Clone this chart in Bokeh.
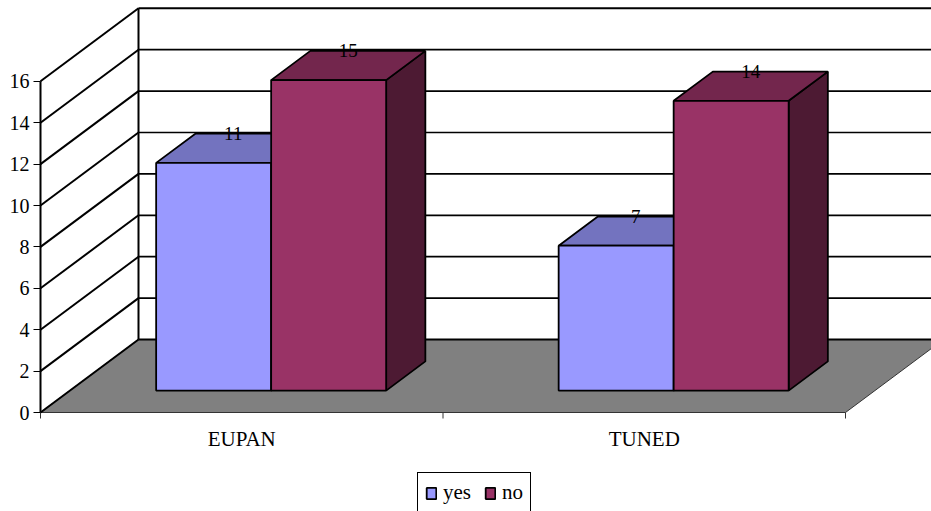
import numpy as np
from bokeh.plotting import figure
from bokeh.models import Range1d, FixedTicker, Legend, LegendItem, ColumnDataSource, LinearAxis
from bokeh.core.properties import value
from bokeh.embed import file_html
from bokeh.resources import INLINE

# ---- data ----
categories = ["EUPAN", "TUNED"]
series_names = ["yes", "no"]
yes_values = [11, 7]
no_values = [15, 14]
value_ticks = [0, 2, 4, 6, 8, 10, 12, 14, 16]

# ---- style / projection parameters ----
front_colors = ["#9999FF", "#993366"]
top_colors = ["#7373BF", "#73264D"]
side_colors = ["#4D4D80", "#4D1A33"]
PX_PER_CAT = 402.5
PX_PER_VAL = 20.7
DX = 98 / PX_PER_CAT          # depth offset in category units
DY = 73 / PX_PER_VAL          # depth offset in value units
GAP = 1.5
BAR_W = 1.0 / (len(series_names) + GAP)
BAR_DEPTH = 1.0 / (1 + GAP)
D0 = (1 - BAR_DEPTH) / 2
D1 = D0 + BAR_DEPTH
VMAX = value_ticks[-1]
NCAT = len(categories)
FONT = "Liberation Serif"


def proj(x, v, d):
    return x + d * DX, v + d * DY


p = figure(width=931, height=511, output_backend="svg", toolbar_location=None,
           x_range=Range1d(-4 / PX_PER_CAT, 891 / PX_PER_CAT),
           y_range=Range1d(-99 / PX_PER_VAL, 412 / PX_PER_VAL),
           min_border_left=36, min_border_right=0, min_border_top=0, min_border_bottom=0,
           x_axis_location=None, y_axis_location=None)
p.grid.visible = False
p.outline_line_color = None
p.background_fill_color = "white"
p.border_fill_color = "white"

# floor
fl = [proj(0, 0, 0), proj(NCAT, 0, 0), proj(NCAT, 0, 1), proj(0, 0, 1)]
p.patch([a for a, b in fl], [b for a, b in fl], fill_color="#808080",
        line_color="#333333", line_width=1)

# back wall gridlines
for v in value_ticks:
    (ax, ay), (bx, by) = proj(0, v, 1), proj(NCAT, v, 1)
    lw = 2 if v in (0, VMAX) else 1.7
    p.segment(x0=[ax], y0=[ay], x1=[bx], y1=[by], line_color="black", line_width=lw)
# left wall lines
for v in value_ticks:
    (ax, ay), (bx, by) = proj(0, v, 0), proj(0, v, 1)
    p.segment(x0=[ax], y0=[ay], x1=[bx], y1=[by], line_color="black", line_width=2)
# vertical edges
for d in (0, 1):
    (ax, ay), (bx, by) = proj(0, 0, d), proj(0, VMAX, d)
    p.segment(x0=[ax], y0=[ay], x1=[bx], y1=[by], line_color="black", line_width=2)

# category axis ticks (at category boundaries) and labels
bounds = list(range(NCAT + 1))
p.segment(x0=bounds, y0=[0] * len(bounds), x1=bounds, y1=[-6 / PX_PER_VAL] * len(bounds),
          line_color="#333333", line_width=1)
p.text(x=[i + 0.5 for i in range(NCAT)], y=[0] * NCAT, text=categories,
       text_align="center", text_baseline="middle", y_offset=26,
       text_font=value(FONT), text_font_size="21px", text_color="black")

# bars
series_values = [yes_values, no_values]
sides, tops, fronts = [], [], []
for j, vals in enumerate(series_values):
    sx, sy, tx, ty = [], [], [], []
    fl_, fr_, fb_, ft_ = [], [], [], []
    for i, v in enumerate(vals):
        x0 = i + GAP / 2 * BAR_W + j * BAR_W
        x1 = x0 + BAR_W
        side = [proj(x1, 0, D0), proj(x1, v, D0), proj(x1, v, D1), proj(x1, 0, D1)]
        top = [proj(x0, v, D0), proj(x1, v, D0), proj(x1, v, D1), proj(x0, v, D1)]
        sx.append([a for a, b in side]); sy.append([b for a, b in side])
        tx.append([a for a, b in top]); ty.append([b for a, b in top])
        l, b0 = proj(x0, 0, D0)
        r, t0 = proj(x1, v, D0)
        fl_.append(l); fr_.append(r); fb_.append(b0); ft_.append(t0)
    sides.append((sx, sy)); tops.append((tx, ty))
    fronts.append(dict(left=fl_, right=fr_, bottom=fb_, top=ft_))

for j in range(len(series_names)):
    p.patches(sides[j][0], sides[j][1], fill_color=side_colors[j], line_color="black", line_width=1.8)
for j in range(len(series_names)):
    p.patches(tops[j][0], tops[j][1], fill_color=top_colors[j], line_color="black", line_width=1.8)
front_renderers = []
for j in range(len(series_names)):
    r = p.quad(source=ColumnDataSource(fronts[j]), left="left", right="right",
               bottom="bottom", top="top", fill_color=front_colors[j],
               line_color="black", line_width=1.8)
    front_renderers.append(r)

# data labels
for j, vals in enumerate(series_values):
    lx, ly, lt = [], [], []
    for i, v in enumerate(vals):
        cx = i + GAP / 2 * BAR_W + j * BAR_W + BAR_W / 2
        a, b = proj(cx, v, 0.5)
        lx.append(a); ly.append(b); lt.append(str(v))
    p.text(x=lx, y=ly, text=lt, text_align="center", text_baseline="middle",
           y_offset=-15, text_font=value(FONT), text_font_size="19px", text_color="black")

# value axis
yaxis = LinearAxis(ticker=FixedTicker(ticks=value_ticks), axis_line_color=None,
                   major_tick_in=4, major_tick_out=3, major_tick_line_color="black",
                   major_tick_line_width=1, minor_tick_line_color=None,
                   major_label_standoff=4, major_label_text_font=FONT,
                   major_label_text_font_size="20px", major_label_text_color="black")
p.add_layout(yaxis, "left")

legend = Legend(items=[LegendItem(label=s, renderers=[front_renderers[j]])
                       for j, s in enumerate(series_names)],
                orientation="horizontal", location=(381, -2),
                border_line_color="black", border_line_width=1, border_line_alpha=1,
                label_text_font=FONT, label_text_font_size="21px", label_text_color="black",
                glyph_width=12, glyph_height=14, label_standoff=6, spacing=13,
                padding=7, margin=0, background_fill_color="white", background_fill_alpha=1)
p.add_layout(legend, "center")

open("out.html", "w").write(file_html(p, INLINE))
